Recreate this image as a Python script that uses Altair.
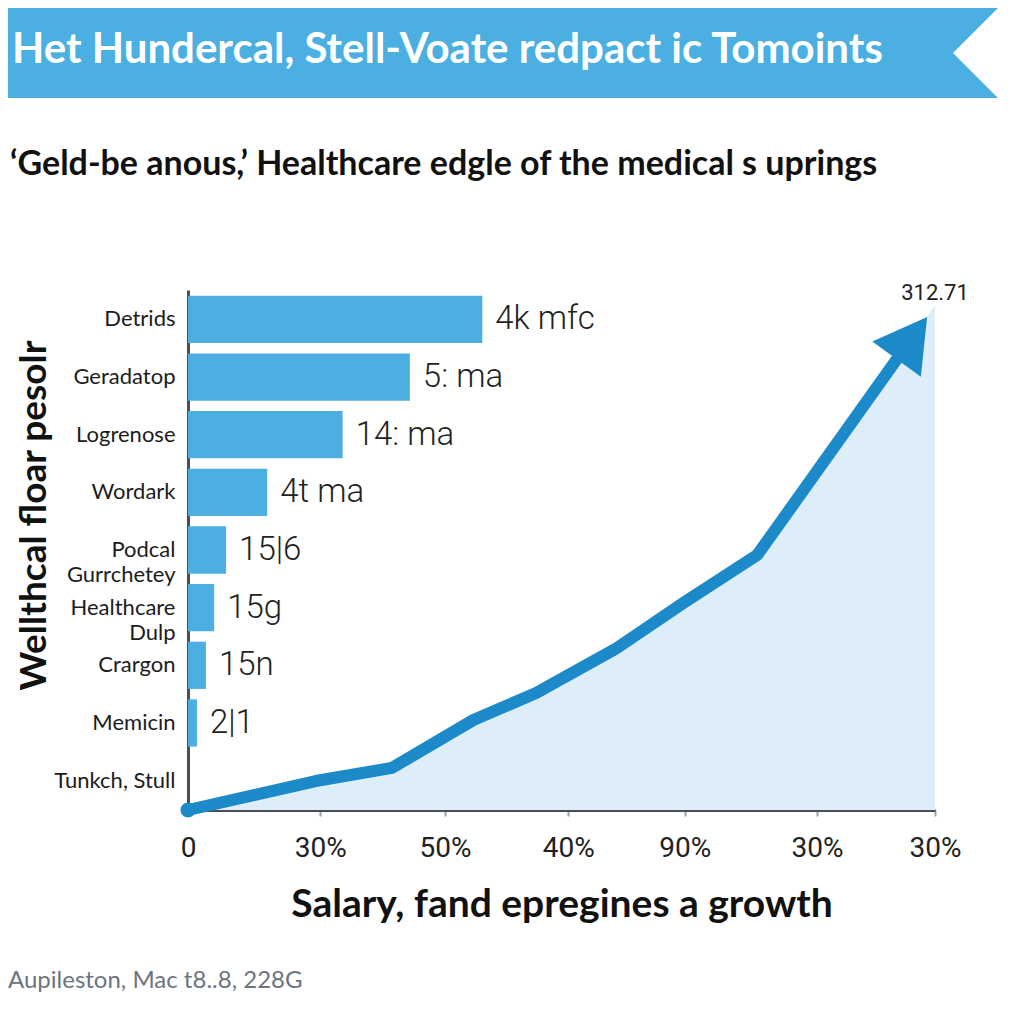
import altair as alt
import pandas as pd

# ---- data ----
categories = ["Detrids", "Geradatop", "Logrenose", "Wordark", "Podcal|Gurrchetey",
              "Healthcare|Dulp", "Crargon", "Memicin", "Tunkch, Stull"]
bar_values = [39.4, 29.7, 20.7, 10.6, 5.1, 3.5, 2.4, 1.2, 0]
bar_labels = ["4k mfc", "5: ma", "14: ma", "4t ma", "15|6", "15g", "15n", "2|1", ""]

line_x = [0, 17.1, 27.3, 38.2, 46.6, 57.2, 66.3, 76.2, 96.9]
line_y = [0, 19.5, 28.3, 60.6, 78.7, 108.3, 139.3, 171.6, 317.6]
area_x = line_x + [100]
area_y = line_y + [339.8]

end_label_x = [100]
end_label_y = [348]
end_label_text = ["312.71"]

tick_values = [0, 17.7, 34.4, 50.9, 66.5, 84.2, 100]
tick_labels = ["0", "30%", "50%", "40%", "90%", "30%", "30%"]

title_text = "Het Hundercal, Stell-Voate redpact ic Tomoints"
subtitle_text = "\u2018Geld-be anous,\u2019 Healthcare edgle of the medical s uprings"
x_title = "Salary, fand epregines a growth"
y_title = "Wellthcal floar pesolr"
footer_text = "Aupileston, Mac t8..8, 228G"

# ---- styles ----
BANNER = "#4BAFE1"
BAR = "#4DAFE1"
LINE = "#1C8AC9"
AREA = "#DDEEF9"
AXIS = "#4a4f57"
FONT = "Lato"

bars_df = pd.DataFrame({"cat": categories, "value": bar_values, "label": bar_labels})
line_df = pd.DataFrame({"x": line_x, "y": line_y})
area_df = pd.DataFrame({"x": area_x, "y": area_y})
end_df = pd.DataFrame({"x": end_label_x, "y": end_label_y, "t": end_label_text})
one = pd.DataFrame({"k": [0]})

expr = ""
for v, l in zip(tick_values, tick_labels):
    expr += f"abs(datum.value - {v}) < 0.5 ? '{l}' : "
expr += "''"

xscale = alt.Scale(domain=[0, 100], nice=False, zero=False)
xaxis = alt.Axis(values=tick_values, labelExpr=expr, title=x_title, grid=False,
                 domainColor=AXIS, domainWidth=3, tickColor="#9aa0a6", tickSize=6,
                 tickWidth=2, labelFontSize=28, labelFont="Roboto", labelColor="#222222",
                 labelPadding=18, labelFlush=False, labelOverlap=False,
                 titleFontSize=39, titleFont=FONT, titleFontWeight="bold",
                 titleColor="#111111", titlePadding=23)
yq = alt.Scale(domain=[0, 350], nice=False, zero=True)
yband = alt.Scale(paddingInner=0.18, paddingOuter=0.1)

# ---- decorations ----
banner = alt.Chart(one).mark_rect(color=BANNER).encode(
    x=alt.value(-180), x2=alt.value(810), y=alt.value(-282), y2=alt.value(-192))
notch = alt.Chart(one).mark_point(shape="M0,0L1,-1L1,1Z", filled=True, color="white",
                                  opacity=1, size=8100, strokeWidth=0).encode(
    x=alt.value(765), y=alt.value(-237))
title = alt.Chart(one).mark_text(text=title_text, align="left", baseline="middle",
                                 color="white", fontSize=42, font=FONT,
                                 fontWeight="bold").encode(
    x=alt.value(-176), y=alt.value(-240))
subtitle = alt.Chart(one).mark_text(text=subtitle_text, align="left", baseline="middle",
                                    color="#111111", fontSize=34, font=FONT,
                                    fontWeight="bold").encode(
    x=alt.value(-178), y=alt.value(-125))
footer = alt.Chart(one).mark_text(text=footer_text, align="left", baseline="middle",
                                  color="#6b7480", fontSize=24, font=FONT).encode(
    x=alt.value(-180), y=alt.value(691))
deco = alt.layer(banner, notch, title, subtitle, footer)

# ---- growth line ----
area = alt.Chart(area_df).mark_area(color=AREA, opacity=1).encode(
    x=alt.X("x:Q", scale=xscale, axis=xaxis),
    y=alt.Y("y:Q", scale=yq, axis=None))
line = alt.Chart(line_df).mark_line(color=LINE, strokeWidth=12, strokeCap="round",
                                    strokeJoin="round").encode(
    x=alt.X("x:Q", scale=xscale, axis=xaxis),
    y=alt.Y("y:Q", scale=yq, axis=None))
arrow = alt.Chart(line_df).transform_filter(f"datum.x == {line_x[-1]}").mark_point(
    shape="triangle-up", angle=36, size=3600, filled=True, color=LINE, opacity=1).encode(
    x=alt.X("x:Q", scale=xscale, axis=xaxis),
    y=alt.Y("y:Q", scale=yq, axis=None))
dot = alt.Chart(line_df).transform_filter(f"datum.x == {line_x[0]}").mark_circle(
    size=230, color=LINE, opacity=1).encode(
    x=alt.X("x:Q", scale=xscale, axis=xaxis),
    y=alt.Y("y:Q", scale=yq, axis=None))
endtext = alt.Chart(end_df).mark_text(align="center", baseline="middle", fontSize=22,
                                      font="Roboto", color="#222222").encode(
    x=alt.X("x:Q", scale=xscale, axis=xaxis),
    y=alt.Y("y:Q", scale=yq, axis=None),
    text="t:N")
line_group = alt.layer(area, line, arrow, dot, endtext)

# ---- bars ----
yaxis = alt.Axis(title=y_title, labelExpr="split(datum.label, '|')", labelFontSize=22,
                 labelFont=FONT, labelColor="#1c1c1c", labelPadding=13,
                 labelLineHeight=25, ticks=False, domainColor=AXIS, domainWidth=3,
                 titleFontSize=37, titleFont=FONT, titleFontWeight="bold",
                 titleColor="#111111", titleX=-143, titleY=225, titleAngle=270,
                 titleBaseline="alphabetic", titleAlign="center")
bars = alt.Chart(bars_df).mark_bar(color=BAR).encode(
    x=alt.X("value:Q", scale=xscale, axis=xaxis),
    y=alt.Y("cat:N", sort=categories, scale=yband, axis=yaxis))
blabels = alt.Chart(bars_df).mark_text(align="left", baseline="middle", dx=13,
                                       fontSize=33, font="Roboto", fontWeight=300,
                                       color="#222222").encode(
    x=alt.X("value:Q", scale=xscale, axis=xaxis),
    y=alt.Y("cat:N", sort=categories, scale=yband, axis=yaxis),
    text="label:N")
bar_group = alt.layer(bars, blabels)

chart = alt.layer(deco, line_group, bar_group).resolve_scale(
    y="independent"
).properties(width=747, height=520, padding=0, background="white").configure_view(
    strokeWidth=0)

chart.save("out.html", embed_options={"renderer": "svg", "actions": False})
